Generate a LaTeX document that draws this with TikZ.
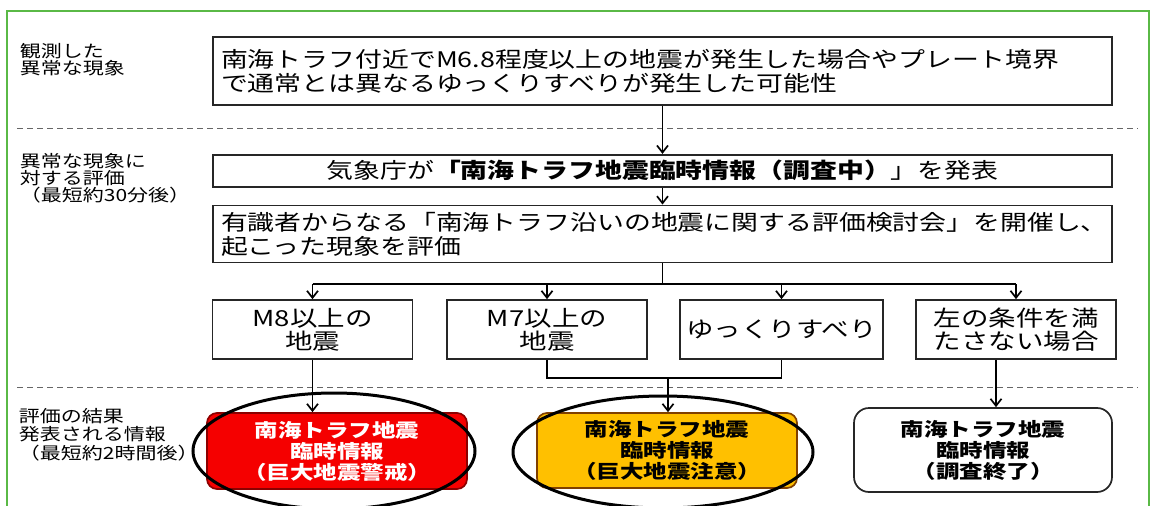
\documentclass[tikz,border=0pt]{standalone}
\usepackage{fontspec}
\setmainfont{Noto Sans CJK JP}[FakeStretch=1.25]
\usetikzlibrary{positioning,arrows.meta}
\definecolor{framegreen}{RGB}{90,185,70}
\definecolor{alertred}{RGB}{245,0,0}
\definecolor{cautionyellow}{RGB}{255,192,0}
\begin{document}
\begin{tikzpicture}[x=1pt, y=-1pt, line width=1.7pt, >={Straight Barb[length=7pt,width=11pt]},
		rowbox/.style={draw=black!85, fill=white, inner xsep=8pt, inner ysep=0pt, text width=883pt, align=left, font=\fontsize{21.5}{24}\selectfont},
		casebox/.style={draw=black!85, fill=white, inner xsep=6pt, inner ysep=0pt, minimum width=200pt, minimum height=59pt, align=center, font=\fontsize{22}{23}\selectfont},
		infobox/.style={draw=black!85, fill=white, rounded corners=10pt, inner sep=0pt, minimum width=260pt, align=center, font=\fontsize{18.8}{21}\selectfont\bfseries},
		sidelabel/.style={anchor=west, align=left, inner sep=0pt, font=\fontsize{16.8}{17.2}\selectfont},
		divider/.style={draw=black!60, line width=1pt, dash pattern=on 6pt off 4pt},
		highlight/.style={draw=black, line width=3pt}]
	\useasboundingbox (0,0) rectangle (1152,506);
	\fill[white] (0,0) rectangle (1152,506);
	\draw[framegreen, line width=2pt] (7,11) rectangle (1149,530);
	
	\node (lab1) [sidelabel] at (19,60) {観測した\\異常な現象};
	\node (lab2) [sidelabel] at (19,178.5) {異常な現象に\\対する評価\\（最短約30分後）};
	\node (lab3) [sidelabel, font=\fontsize{16.8}{18.5}\selectfont] at (18,434.5) {評価の結果\\発表される情報\\（最短約2時間後）};
	
	\node (obs) [rowbox, minimum height=68pt] at (662.5,71) {南海トラフ付近でM6.8程度以上の地震が発生した場合やプレート境界\\で通常とは異なるゆっくりすべりが発生した可能性};
	\node (jma) [rowbox, minimum height=32pt, align=center, below=48pt of obs] {気象庁が{\bfseries「南海トラフ地震臨時情報（調査中）}」を発表};
	\node (eval) [rowbox, minimum height=57pt, below=17pt of jma] {有識者からなる「南海トラフ沿いの地震に関する評価検討会」を開催し、\\起こった現象を評価};
	
	\node (m8) [casebox] at (312.5,329.5) {M8以上の\\地震};
	\node (m7) [casebox] at (547,329.5) {M7以上の\\地震};
	\node (slow) [casebox] at (781.5,329.5) {ゆっくりすべり};
	\node (other) [casebox] at (1016,329.5) {左の条件を満\\たさない場合};
	
	\node (red) [infobox, fill=alertred, draw=red!55!black, text=white, minimum height=76pt] at (337,451) {南海トラフ地震\\臨時情報\\（巨大地震警戒）};
	\node (yellow) [infobox, fill=cautionyellow, draw=orange!50!black, minimum height=75pt] at (667,450.5) {南海トラフ地震\\臨時情報\\（巨大地震注意）};
	\node (white) [infobox, rounded corners=15pt, minimum width=258pt, minimum height=84pt] at (983,450) {南海トラフ地震\\臨時情報\\（調査終了）};
	
	\draw[divider] (17,128) -- (1138,128);
	\draw[divider] (17,387) -- (1138,387);
	
	\draw[->] (obs) -- (jma);
	\draw[->] (jma) -- (eval);
	\draw (eval.south) -- ++(0,21) coordinate (fork);
	\draw (fork -| m8) -- (fork -| other);
	\draw[->] (fork -| m8) -- (m8);
	\draw[->] (fork -| m7) -- (m7);
	\draw[->] (fork -| slow) -- (slow);
	\draw[->] (fork -| other) -- (other);
	
	\coordinate (merge) at (668,378);
	\draw (m7.south) |- (merge) -| (slow.south);
	\draw[->] (merge) -- (merge |- yellow.north);
	\draw[->] (m8.south) -- (m8.south |- red.north);
	\draw[->] ([xshift=-20pt]other.south) -- ([xshift=13pt]white.north);
	
	\draw[highlight] ([xshift=-3pt]red.center) ellipse [x radius=141pt, y radius=58pt];
	\draw[highlight] ([shift={(-4,1.5)}]yellow.center) ellipse [x radius=150pt, y radius=56pt];
\end{tikzpicture}
\end{document}
